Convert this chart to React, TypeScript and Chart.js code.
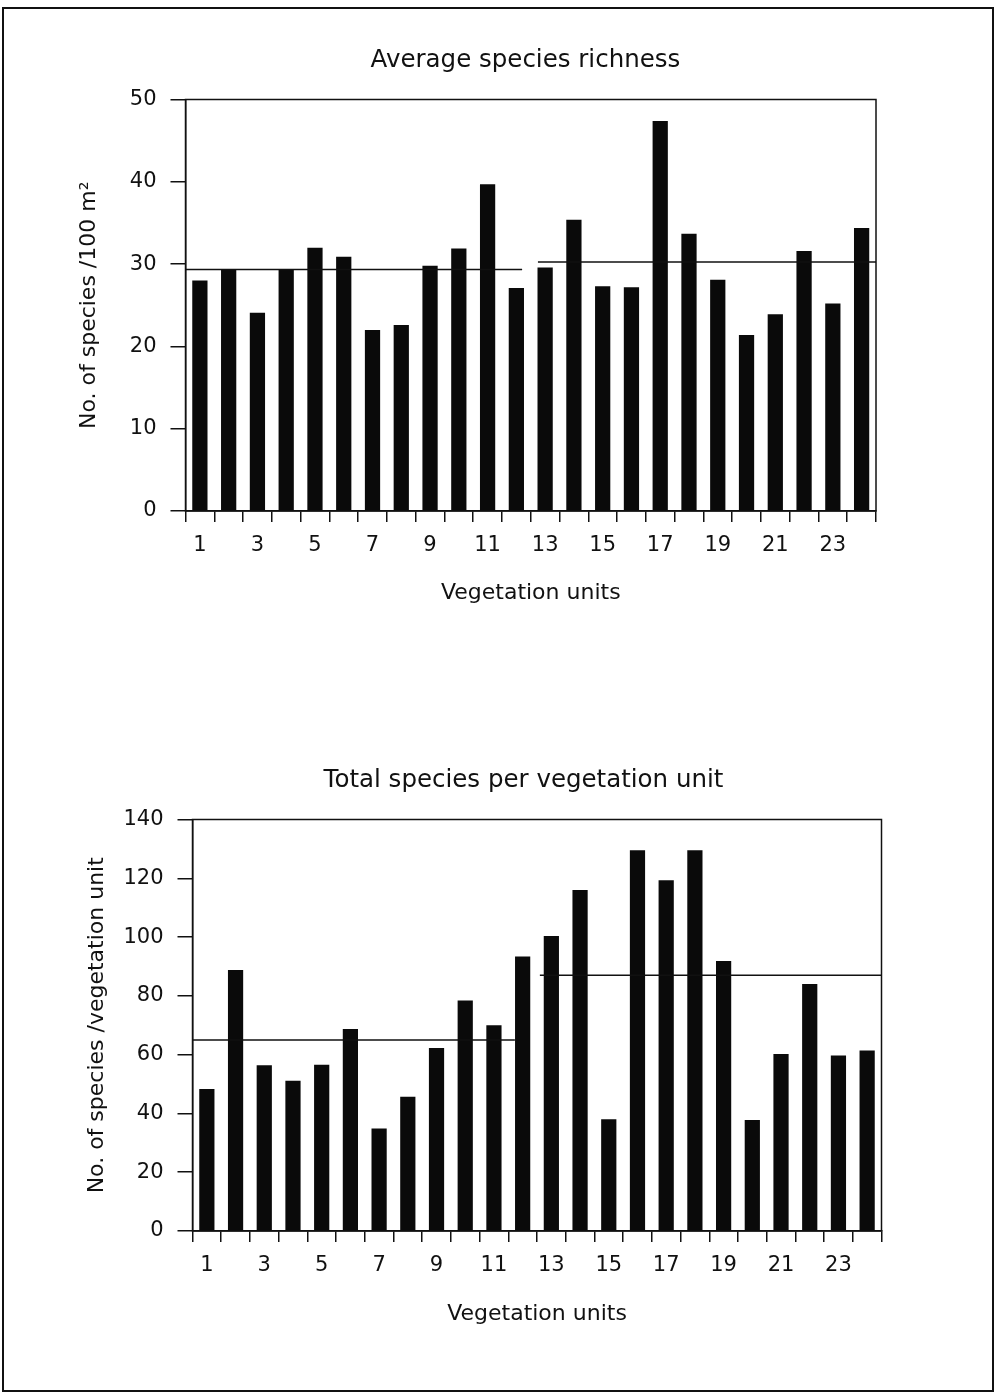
import React, { useEffect, useRef } from 'react';
import { Chart, registerables } from 'chart.js';

Chart.register(...registerables);

// ---------- data ----------
const units = ['1', '2', '3', '4', '5', '6', '7', '8', '9', '10', '11', '12',
  '13', '14', '15', '16', '17', '18', '19', '20', '21', '22', '23', '24'];

const avgRichness = [28.0, 29.4, 24.1, 29.3, 32.0, 30.9, 22.0, 22.6, 29.8, 31.9, 39.7, 27.1,
  29.6, 35.4, 27.3, 27.2, 47.4, 33.7, 28.1, 21.4, 23.9, 31.6, 25.2, 34.4];

// group means, drawn as horizontal segments (from/to in category-index units)
const avgMeans = [
  { from: -0.5, to: 11.2, value: 29.35 },
  { from: 11.75, to: 23.5, value: 30.25 },
];

const totalSpecies = [48.3, 88.8, 56.4, 51.1, 56.6, 68.7, 34.9, 45.7, 62.3, 78.4, 70.0, 93.4,
  100.4, 116.0, 38.0, 129.5, 119.3, 129.5, 91.9, 37.8, 60.2, 84.0, 59.7, 61.4];

const totalMeans = [
  { from: -0.5, to: 10.73, value: 65.0 },
  { from: 11.6, to: 23.5, value: 87.0 },
];

const avgTicks = { min: 0, max: 50, step: 10 };
const totalTicks = { min: 0, max: 140, step: 20 };

const FONT = 'DejaVu Sans';
const INK = '#111111';

const plotFrame = {
  id: 'plotFrame',
  afterDatasetsDraw(chart: any) {
    const { ctx, chartArea: a } = chart;
    ctx.save();
    ctx.strokeStyle = INK;
    ctx.lineWidth = 1.5;
    ctx.strokeRect(a.left, a.top, a.right - a.left, a.bottom - a.top);
    ctx.restore();
  },
};

const meanLines = {
  id: 'meanLines',
  afterDatasetsDraw(chart: any, _args: any, opts: any) {
    const { ctx } = chart;
    const xs = chart.scales.x;
    const ys = chart.scales.y;
    ctx.save();
    ctx.strokeStyle = INK;
    ctx.lineWidth = 1.5;
    for (const seg of opts.segments || []) {
      const py = ys.getPixelForValue(seg.value);
      ctx.beginPath();
      ctx.moveTo(xs.getPixelForValue(seg.from), py);
      ctx.lineTo(xs.getPixelForValue(seg.to), py);
      ctx.stroke();
    }
    ctx.restore();
  },
};

// panel heading, centred over the plot area with a small horizontal shift
const panelTitle = {
  id: 'panelTitle',
  afterDraw(chart: any, _args: any, opts: any) {
    const { ctx, chartArea: a } = chart;
    ctx.save();
    ctx.fillStyle = INK;
    ctx.font = `${opts.size}px "${FONT}"`;
    ctx.textAlign = 'center';
    ctx.textBaseline = 'middle';
    ctx.fillText(opts.text, (a.left + a.right) / 2 + opts.dx, opts.y);
    ctx.restore();
  },
};

type Geo = {
  yWidth: number; xHeight: number;
  padTop: number; padRight: number; padBottom: number;
  titleY: number; titleDx: number;
  yTitlePad: number; xTitlePad: number; xLabelPad: number;
};

function makeConfig(title: string, yTitle: string, values: number[], means: any[], ticks: any, g: Geo): any {
  const tickFont = { family: FONT, size: 21, weight: 'normal' as const };
  const axisFont = { family: FONT, size: 22, weight: 'normal' as const };
  return {
    type: 'bar',
    data: {
      labels: units,
      datasets: [
        {
          data: values, backgroundColor: '#0a0a0a',
          categoryPercentage: 1, barPercentage: 0.53,
        },
      ],
    },
    plugins: [plotFrame, meanLines, panelTitle],
    options: {
      animation: false,
      responsive: false,
      devicePixelRatio: 1,
      layout: { padding: { left: 0, top: g.padTop, right: g.padRight, bottom: g.padBottom } },
      plugins: {
        legend: { display: false },
        tooltip: { enabled: false },
        title: { display: false },
        meanLines: { segments: means },
        panelTitle: { text: title, size: 24.5, y: g.titleY, dx: g.titleDx },
      },
      scales: {
        x: {
          type: 'category',
          offset: true,
          afterFit: (s: any) => { s.height = g.xHeight; },
          grid: { display: true, offset: true, drawOnChartArea: false, drawTicks: true, tickLength: 11, color: INK, lineWidth: 1.5 },
          border: { display: true, color: INK, width: 1.5 },
          ticks: {
            autoSkip: false, maxRotation: 0, color: INK, font: tickFont, padding: g.xLabelPad,
            callback: (_v: any, i: number) => (i % 2 === 0 ? units[i] : ''),
          },
          title: { display: true, text: 'Vegetation units', color: INK, font: axisFont, padding: { top: 0, bottom: g.xTitlePad } },
        },
        y: {
          min: ticks.min, max: ticks.max,
          afterFit: (s: any) => { s.width = g.yWidth; },
          grid: { display: true, drawOnChartArea: false, drawTicks: true, tickLength: 15, color: INK, lineWidth: 1.5 },
          border: { display: true, color: INK, width: 1.5 },
          ticks: { stepSize: ticks.step, color: INK, font: tickFont, padding: 14 },
          title: { display: true, text: yTitle, color: INK, font: axisFont, padding: { top: g.yTitlePad, bottom: 0 } },
        },
      },
    },
  };
}

function BarPanel(props: { top: number; height: number; config: any }) {
  const ref = useRef<HTMLCanvasElement | null>(null);
  useEffect(() => {
    if (!ref.current) return;
    const chart = new Chart(ref.current, props.config);
    return () => chart.destroy();
  }, []);
  return (
    <div style={{ position: 'absolute', left: 0, top: props.top, width: 996, height: props.height }}>
      <canvas ref={ref} width={996} height={props.height} style={{ display: 'block', width: 996, height: props.height }} />
    </div>
  );
}

export default function App() {
  // top panel: plot area x 185.5..876, y 99.5..511
  const cfgTop = makeConfig('Average species richness', 'No. of species /100 m\u00B2', avgRichness, avgMeans, avgTicks, {
    yWidth: 185.5, xHeight: 100, padTop: 99.5, padRight: 120, padBottom: 29,
    titleY: 61, titleDx: -5.3, yTitlePad: 75.8, xTitlePad: 4.8, xLabelPad: 11,
  });
  // bottom panel (canvas top 700): plot area x 192.5..881.5, y 819.5..1231
  const cfgBottom = makeConfig('Total species per vegetation unit', 'No. of species /vegetation unit', totalSpecies, totalMeans, totalTicks, {
    yWidth: 192.5, xHeight: 100, padTop: 119.5, padRight: 114.5, padBottom: 29,
    titleY: 80.5, titleDx: -13.5, yTitlePad: 83.8, xTitlePad: 3.8, xLabelPad: 10.5,
  });
  return (
    <div style={{ position: 'absolute', left: 0, top: 0, width: 996, height: 1396, background: '#ffffff', overflow: 'hidden' }}>
      <BarPanel top={0} height={640} config={cfgTop} />
      <BarPanel top={700} height={660} config={cfgBottom} />
      <div style={{ position: 'absolute', left: 2, top: 7, width: 992, height: 1385, boxSizing: 'border-box', border: '2px solid #111', pointerEvents: 'none' }} />
    </div>
  );
}
